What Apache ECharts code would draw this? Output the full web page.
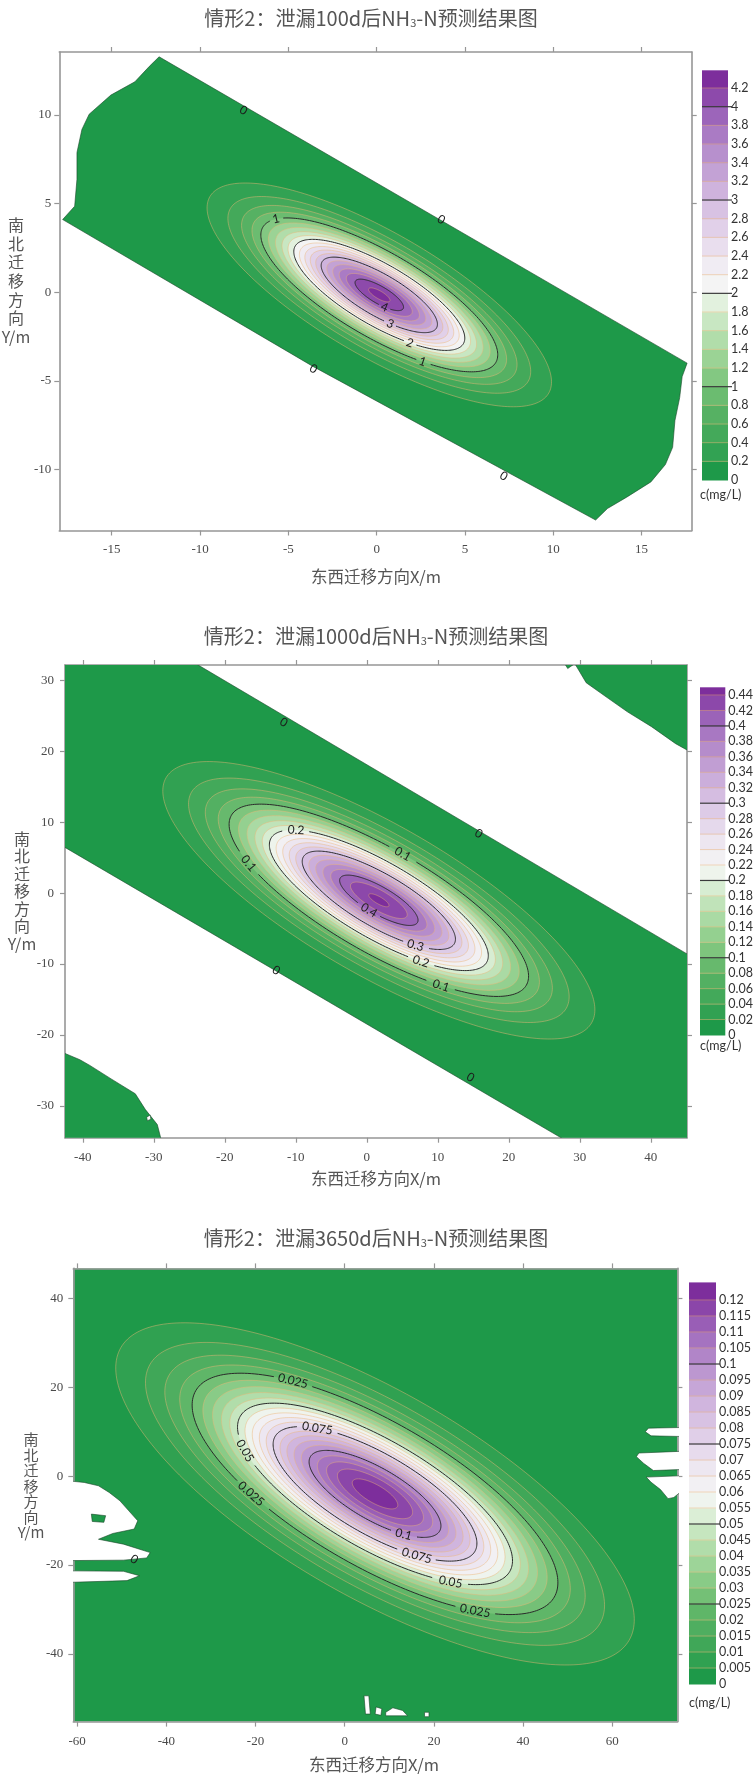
<!DOCTYPE html>
<html>
<head>
<meta charset="utf-8">
<script src="https://cdn.jsdelivr.net/npm/echarts@6/dist/echarts.min.js"></script>
<style>
  html, body { margin: 0; padding: 0; background: #ffffff; }
  #chart { width: 756px; height: 1774px; }
</style>
</head>
<body>
<div id="chart"></div>
<script>
// ===================== 情形2：泄漏100d =====================
const xRange100 = [-17.97, 17.84];
const yRange100 = [-13.44, 13.55];
const xTicks100 = [-15, -10, -5, 0, 5, 10, 15];
const yTicks100 = [-10, -5, 0, 5, 10];
const levels100 = [0.2, 0.4, 0.6, 0.8, 1, 1.2, 1.4, 1.6, 1.8, 2, 2.2, 2.4, 2.6, 2.8, 3, 3.2, 3.4, 3.6, 3.8, 4, 4.2];
const semiMajor100 = [11.08, 9.74, 8.86, 8.19, 7.62, 7.13, 6.68, 6.26, 5.87, 5.50, 5.14, 4.79, 4.44, 4.09, 3.74, 3.38, 2.99, 2.58, 2.12, 1.56, 0.69];
const semiMinor100 = [3.49, 3.07, 2.79, 2.58, 2.40, 2.24, 2.10, 1.97, 1.85, 1.73, 1.62, 1.51, 1.40, 1.29, 1.18, 1.06, 0.94, 0.81, 0.67, 0.49, 0.22];
const majorLevels100 = [1, 2, 3, 4];
const plumeCenter100 = [0.15, -0.15];
const plumeAxisDeg100 = -30;
const barMax100 = 4.39;
const domain100 = [
  [[-12.32, 13.28], [17.58, -4.0], [17.3, -4.76], [17.16, -5.94], [16.89, -7.24], [16.76, -8.75],
   [16.35, -9.72], [15.53, -10.7], [14.16, -11.56], [13.07, -12.2], [12.4, -12.85], [-3.58, -4.2],
   [-17.78, 4.1], [-17.1, 4.85], [-16.97, 6.37], [-16.97, 7.88], [-16.69, 9.18], [-16.28, 10.04],
   [-15.05, 11.12], [-13.69, 11.87], [-12.87, 12.74]]
];
const holes100 = [];
const islands100 = [];
const zeroLabels100 = [[-7.54, 10.25], [3.65, 4.1], [-3.58, -4.32], [7.2, -10.37]];
const contourLabels100 = [[1, -5.66, 4.1], [1, 2.64, -3.98], [2, 1.88, -2.86], [3, 0.75, -1.73], [4, 0.38, -0.69]];

// ===================== 情形2：泄漏1000d =====================
const xRange1000 = [-42.5, 45.1];
const yRange1000 = [-34.5, 32.2];
const xTicks1000 = [-40, -30, -20, -10, 0, 10, 20, 30, 40];
const yTicks1000 = [-30, -20, -10, 0, 10, 20, 30];
const levels1000 = [0.02, 0.04, 0.06, 0.08, 0.1, 0.12, 0.14, 0.16, 0.18, 0.2, 0.22, 0.24, 0.26, 0.28, 0.3, 0.32, 0.34, 0.36, 0.38, 0.4, 0.42, 0.44];
const semiMajor1000 = [34.60, 30.48, 27.79, 25.72, 23.98, 22.47, 21.10, 19.84, 18.66, 17.53, 16.45, 15.39, 14.35, 13.31, 12.27, 11.21, 10.11, 8.95, 7.70, 6.28, 4.54, 1.62];
const semiMinor1000 = [10.58, 9.32, 8.50, 7.86, 7.33, 6.87, 6.45, 6.07, 5.70, 5.36, 5.03, 4.71, 4.39, 4.07, 3.75, 3.43, 3.09, 2.74, 2.35, 1.92, 1.39, 0.50];
const majorLevels1000 = [0.1, 0.2, 0.3, 0.4];
const plumeCenter1000 = [1.7, -1.0];
const plumeAxisDeg1000 = -30;
const barMax1000 = 0.45;
const domain1000 = [
  [[-43, 33], [-25.1, 33], [46, -9.1], [46, -35], [28.2, -35], [-43, 6.75]],
  [[27.5, 33], [28.3, 31.7], [29.3, 32.4], [30.9, 29.7], [34.0, 27.5], [36.7, 25.6], [40.1, 23.5], [43.5, 21.1], [46, 19.7], [46, 33]],
  [[-43, -22.4], [-40.4, -23.5], [-39.0, -24.3], [-36.0, -26.2], [-32.6, -28.3], [-31.2, -30.5], [-29.5, -32.65], [-28.9, -35], [-43, -35]]
];
const holes1000 = [[[-31.0, -31.6], [-30.5, -31.3], [-30.4, -31.9], [-30.9, -32.1]]];
const islands1000 = [];
const zeroLabels1000 = [[-11.7, 24.1], [15.76, 8.39], [-12.77, -10.9], [14.6, -26.0]];
const contourLabels1000 = [[0.2, -9.6, 8.6], [0.1, 5.2, 5.8], [0.1, -17.3, 4.4], [0.4, 0.75, -1.96], [0.3, 6.85, -7.36], [0.2, 7.8, -9.9], [0.1, 10.8, -13.5]];

// ===================== 情形2：泄漏3650d =====================
const xRange3650 = [-60.85, 74.6];
const yRange3650 = [-55.2, 46.7];
const xTicks3650 = [-60, -40, -20, 0, 20, 40, 60];
const yTicks3650 = [-40, -20, 0, 20, 40];
const levels3650 = [0.005, 0.01, 0.015, 0.02, 0.025, 0.03, 0.035, 0.04, 0.045, 0.05, 0.055, 0.06, 0.065, 0.07, 0.075, 0.08, 0.085, 0.09, 0.095, 0.1, 0.105, 0.11, 0.115, 0.12];
const semiMajor3650 = [65.80, 58.25, 53.34, 49.56, 46.41, 43.68, 41.22, 38.97, 36.87, 34.89, 32.99, 31.15, 29.36, 27.61, 25.86, 24.11, 22.35, 20.55, 18.69, 16.73, 14.63, 12.29, 9.54, 5.78];
const semiMinor3650 = [23.03, 20.39, 18.67, 17.35, 16.24, 15.29, 14.43, 13.64, 12.90, 12.21, 11.55, 10.90, 10.28, 9.66, 9.05, 8.44, 7.82, 7.19, 6.54, 5.86, 5.12, 4.30, 3.34, 2.02];
const majorLevels3650 = [0.025, 0.05, 0.075, 0.1];
const plumeCenter3650 = [6.8, -4.0];
const plumeAxisDeg3650 = -30;
const barMax3650 = 0.1255;
const domain3650 = [[[-62, 48], [76, 48], [76, -57], [-62, -57]]];
const holes3650 = [
  [[-62, -1.06], [-58.4, -1.43], [-55.2, -2.18], [-52.8, -3.68], [-50.4, -5.55], [-48.4, -7.8], [-46.4, -10.04],
   [-47.2, -11.9], [-52.0, -12.9], [-55.2, -14.2], [-49.6, -15.3], [-43.6, -17.2], [-44.4, -18.4], [-49.6, -18.9], [-62, -19.0]],
  [[-62, -21.3], [-49.6, -21.4], [-46.0, -22.4], [-48.8, -23.5], [-62, -23.9]],
  [[76, 10.94], [68.1, 10.78], [67.4, 9.96], [68.7, 9.05], [76, 8.89]],
  [[76, 5.6], [65.96, 5.19], [65.4, 4.37], [67.0, 2.89], [69.2, 1.25], [76, 1.5]],
  [[76, 0.1], [67.6, -0.23], [68.7, -1.38], [70.8, -3.02], [72.5, -5.07], [73.8, -4.8], [76, -3.02]],
  [[4.33, -49.4], [5.41, -49.4], [5.74, -53.5], [4.66, -53.5]],
  [[7.04, -51.9], [8.33, -52.3], [8.12, -53.8], [6.82, -53.5]],
  [[9.2, -53.1], [10.8, -52.1], [13.0, -52.7], [14.1, -53.9], [9.2, -53.9]],
  [[17.9, -53.1], [18.9, -53.1], [18.9, -54.1], [17.9, -54.1]]
];
const islands3650 = [[[-56.8, -8.55], [-53.6, -8.9], [-54.0, -10.4], [-56.6, -10.2]]];
const zeroLabels3650 = [[-47.2, -18.7]];
const contourLabels3650 = [[0.025, -11.1, 20.7], [0.075, -4.7, 9.1], [0.05, -22.4, 5.7], [0.025, -20.0, -4.0], [0.1, 12.1, -11.5], [0.075, 15.7, -17.2], [0.05, 22.9, -22.8], [0.025, 28.9, -29.9]];

// ---------- colour scale: green -> white -> purple ----------
const colourStops = [
  [0.00, [30, 153, 73]], [0.05, [51, 162, 83]], [0.10, [70, 170, 91]], [0.16, [92, 180, 102]],
  [0.22, [122, 195, 122]], [0.28, [152, 210, 147]], [0.34, [180, 222, 173]], [0.40, [210, 235, 204]],
  [0.44, [232, 243, 229]], [0.47, [244, 245, 244]], [0.52, [241, 237, 243]], [0.60, [228, 214, 235]],
  [0.70, [210, 184, 223]], [0.80, [186, 148, 207]], [0.90, [158, 104, 187]], [1.00, [125, 46, 156]]
];
function colourAt(t) {
  t = Math.max(0, Math.min(1, t));
  for (let i = 1; i < colourStops.length; i++) {
    const [t1, c1] = colourStops[i];
    const [t0, c0] = colourStops[i - 1];
    if (t <= t1) {
      const f = (t - t0) / (t1 - t0);
      const c = c0.map((v, k) => Math.round(v + (c1[k] - v) * f));
      return 'rgb(' + c.join(',') + ')';
    }
  }
  return 'rgb(125,46,156)';
}
const BASE_GREEN = colourAt(0);
const MINOR_LINE = 'rgba(236,182,118,0.6)';
const MAJOR_LINE = '#2a2a2a';

// ---------- panel assembly ----------
const panels = [
  {
    xRange: xRange100, yRange: yRange100, xTicks: xTicks100, yTicks: yTicks100,
    levels: levels100, semiMajor: semiMajor100, semiMinor: semiMinor100, majorLevels: majorLevels100,
    center: plumeCenter100, angle: plumeAxisDeg100 * Math.PI / 180, barMax: barMax100,
    domain: domain100, holes: holes100, islands: islands100,
    zeroLabels: zeroLabels100, contourLabels: contourLabels100,
    title: '情形2：泄漏100d后NH{s|3}-N预测结果图',
    layout: { grid: { left: 59.3, top: 52, width: 632.4, height: 478.5 },
              bar: { left: 702, top: 70.3, width: 26, height: 409.7 },
              title: [371, 18], xName: [376, 577], yName: [16, 281, 18.6, 16], unit: [700, 495],
              xLabelMargin: 13, yLabelMargin: 8 }
  },
  {
    xRange: xRange1000, yRange: yRange1000, xTicks: xTicks1000, yTicks: yTicks1000,
    levels: levels1000, semiMajor: semiMajor1000, semiMinor: semiMinor1000, majorLevels: majorLevels1000,
    center: plumeCenter1000, angle: plumeAxisDeg1000 * Math.PI / 180, barMax: barMax1000,
    domain: domain1000, holes: holes1000, islands: islands1000,
    zeroLabels: zeroLabels1000, contourLabels: contourLabels1000,
    title: '情形2：泄漏1000d后NH{s|3}-N预测结果图',
    layout: { grid: { left: 65, top: 665, width: 622, height: 472.7 },
              bar: { left: 700, top: 687.3, width: 26, height: 347.7 },
              title: [376, 636], xName: [376, 1179], yName: [22, 891, 17.5, 16], unit: [700, 1046],
              xLabelMargin: 13, yLabelMargin: 11 }
  },
  {
    xRange: xRange3650, yRange: yRange3650, xTicks: xTicks3650, yTicks: yTicks3650,
    levels: levels3650, semiMajor: semiMajor3650, semiMinor: semiMinor3650, majorLevels: majorLevels3650,
    center: plumeCenter3650, angle: plumeAxisDeg3650 * Math.PI / 180, barMax: barMax3650,
    domain: domain3650, holes: holes3650, islands: islands3650,
    zeroLabels: zeroLabels3650, contourLabels: contourLabels3650,
    title: '情形2：泄漏3650d后NH{s|3}-N预测结果图',
    layout: { grid: { left: 73.3, top: 1268.4, width: 604.1, height: 453.2 },
              bar: { left: 689, top: 1282.4, width: 27, height: 401.6 },
              title: [376, 1238], xName: [374, 1765], yName: [31, 1486, 15.5, 15], unit: [689, 1703],
              xLabelMargin: 13, yLabelMargin: 10 }
  }
];

// ---------- geometry helpers (data space) ----------
function ellipsePoint(c, a, b, ang, s) {
  const ca = Math.cos(ang), sa = Math.sin(ang);
  const u = a * Math.cos(s), v = b * Math.sin(s);
  return [c[0] + u * ca - v * sa, c[1] + u * sa + v * ca];
}
function ellipseParam(c, a, b, ang, x, y) {
  const ca = Math.cos(ang), sa = Math.sin(ang);
  const dx = x - c[0], dy = y - c[1];
  const u = dx * ca + dy * sa, v = -dx * sa + dy * ca;
  return Math.atan2(v / b, u / a);
}
const SAMPLES = 240;
function isMajor(p, level) { return p.majorLevels.some(m => Math.abs(m - level) < 1e-9); }
function bandColour(p, j) { return colourAt(j / p.levels.length); }

// ---------- render functions ----------
function polygonSeries(p, polys, fill, stroke, gi) {
  return {
    type: 'custom', xAxisIndex: 2 * gi, yAxisIndex: 2 * gi, clip: true, silent: true,
    data: polys.map((_, i) => [i]),
    renderItem: (params, api) => ({
      type: 'polygon',
      shape: { points: polys[params.dataIndex].map(pt => api.coord(pt)) },
      style: { fill: fill, stroke: stroke, lineWidth: 0.8 }
    })
  };
}

function bandSeries(p, gi) {
  return {
    type: 'custom', xAxisIndex: 2 * gi, yAxisIndex: 2 * gi, clip: true, silent: true,
    data: p.levels.map((c, i) => [c, p.semiMajor[i], p.semiMinor[i]]),
    renderItem: (params, api) => {
      const i = params.dataIndex;
      const a = api.value(1), b = api.value(2);
      const pts = [];
      for (let k = 0; k < SAMPLES; k++) {
        pts.push(api.coord(ellipsePoint(p.center, a, b, p.angle, 2 * Math.PI * k / SAMPLES)));
      }
      return { type: 'polygon', shape: { points: pts }, style: { fill: bandColour(p, i + 1) } };
    }
  };
}

function contourSeries(p, gi) {
  return {
    type: 'custom', xAxisIndex: 2 * gi, yAxisIndex: 2 * gi, clip: true, silent: true,
    data: p.levels.map((c, i) => [c, p.semiMajor[i], p.semiMinor[i]]),
    renderItem: (params, api) => {
      const level = api.value(0), a = api.value(1), b = api.value(2);
      const major = isMajor(p, level);
      const pts = [];
      for (let k = 0; k < SAMPLES; k++) {
        pts.push(api.coord(ellipsePoint(p.center, a, b, p.angle, 2 * Math.PI * k / SAMPLES)));
      }
      const children = [];
      const skip = new Array(SAMPLES).fill(false);
      if (major) {
        p.contourLabels.filter(l => Math.abs(l[0] - level) < 1e-9).forEach(l => {
          const s = ellipseParam(p.center, a, b, p.angle, l[1], l[2]);
          const sp = api.coord(ellipsePoint(p.center, a, b, p.angle, s));
          const sq = api.coord(ellipsePoint(p.center, a, b, p.angle, s + 0.01));
          let rot = Math.atan2(-(sq[1] - sp[1]), sq[0] - sp[0]);
          if (rot > Math.PI / 2) rot -= Math.PI;
          if (rot < -Math.PI / 2) rot += Math.PI;
          const text = String(level);
          const half = text.length * 3.2 + 3;
          for (let k = 0; k < SAMPLES; k++) {
            if (Math.hypot(pts[k][0] - sp[0], pts[k][1] - sp[1]) < half) skip[k] = true;
          }
          children.push({
            type: 'text', x: sp[0], y: sp[1], rotation: rot, z2: 5,
            style: { text: text, fill: '#1c1c1c', fontSize: 12, fontFamily: 'Lato, sans-serif',
                     align: 'center', verticalAlign: 'middle' }
          });
        });
      }
      const style = major ? { stroke: MAJOR_LINE, lineWidth: 1, fill: null }
                          : { stroke: MINOR_LINE, lineWidth: 0.8, fill: null };
      const start = skip.indexOf(true);
      if (start < 0) {
        children.push({ type: 'polygon', shape: { points: pts }, style: style });
      } else {
        let run = [];
        for (let n = 1; n <= SAMPLES; n++) {
          const k = (start + n) % SAMPLES;
          if (skip[k]) {
            if (run.length > 1) children.push({ type: 'polyline', shape: { points: run }, style: style });
            run = [];
          } else {
            run.push(pts[k]);
          }
        }
        if (run.length > 1) children.push({ type: 'polyline', shape: { points: run }, style: style });
      }
      return { type: 'group', children: children };
    }
  };
}

function zeroLabelSeries(p, gi) {
  return {
    type: 'custom', xAxisIndex: 2 * gi, yAxisIndex: 2 * gi, clip: true, silent: true,
    data: p.zeroLabels,
    renderItem: (params, api) => {
      const pt = api.coord([api.value(0), api.value(1)]);
      return {
        type: 'text', x: pt[0], y: pt[1], rotation: -Math.PI / 6,
        style: { text: '0', fill: '#1c1c1c', fontSize: 12, fontFamily: 'Lato, sans-serif',
                 align: 'center', verticalAlign: 'middle' }
      };
    }
  };
}

function barSeries(p, gi) {
  const edges = [0].concat(p.levels, [p.barMax]);
  return {
    type: 'custom', xAxisIndex: 6 + gi, yAxisIndex: 6 + gi, silent: true,
    data: edges.slice(0, -1).map((lo, j) => [lo, edges[j + 1]]),
    renderItem: (params, api) => {
      const p0 = api.coord([0, api.value(0)]);
      const p1 = api.coord([1, api.value(1)]);
      return {
        type: 'rect',
        shape: { x: p0[0], y: p1[1], width: p1[0] - p0[0], height: p0[1] - p1[1] + 0.5 },
        style: { fill: bandColour(p, params.dataIndex) }
      };
    }
  };
}

function barLineSeries(p, gi) {
  return {
    type: 'custom', xAxisIndex: 6 + gi, yAxisIndex: 6 + gi, silent: true, z: 3,
    data: p.levels.map(c => [c]),
    renderItem: (params, api) => {
      const level = api.value(0);
      const major = isMajor(p, level);
      const a = api.coord([0, level]);
      const b = api.coord([1, level]);
      return {
        type: 'line',
        shape: { x1: a[0], y1: a[1], x2: b[0] + (major ? 4 : 0), y2: b[1] },
        style: major ? { stroke: '#3a3a3a', lineWidth: 1.2 } : { stroke: MINOR_LINE, lineWidth: 0.8 }
      };
    }
  };
}

// ---------- axes ----------
const FRAME = '#969696';
const grids = [], xAxes = [], yAxes = [], series = [], graphics = [];

panels.forEach((p, gi) => {
  const L = p.layout;
  grids.push(Object.assign({ containLabel: false, show: gi === 2, backgroundColor: gi === 2 ? BASE_GREEN : 'transparent', borderWidth: 0 }, L.grid));
});
panels.forEach((p) => {
  grids.push(Object.assign({ containLabel: false }, p.layout.bar));
});

panels.forEach((p, gi) => {
  const line = { show: true, onZero: false, lineStyle: { color: FRAME, width: 1.6 } };
  const labelFont = { color: '#4a4a4a', fontFamily: 'Liberation Serif, serif', fontSize: 13 };
  const tick = vals => ({ show: true, inside: false, length: 5, customValues: vals, lineStyle: { color: FRAME, width: 1.2 } });
  xAxes.push({ type: 'value', gridIndex: gi, position: 'bottom', min: p.xRange[0], max: p.xRange[1],
    axisLine: line, axisTick: tick(p.xTicks), splitLine: { show: false },
    axisLabel: Object.assign({ customValues: p.xTicks, margin: p.layout.xLabelMargin }, labelFont) });
  xAxes.push({ type: 'value', gridIndex: gi, position: 'top', min: p.xRange[0], max: p.xRange[1],
    axisLine: line, axisTick: tick(p.xTicks), splitLine: { show: false }, axisLabel: { show: false } });
  yAxes.push({ type: 'value', gridIndex: gi, position: 'left', min: p.yRange[0], max: p.yRange[1],
    axisLine: line, axisTick: tick(p.yTicks), splitLine: { show: false },
    axisLabel: Object.assign({ customValues: p.yTicks, margin: p.layout.yLabelMargin }, labelFont) });
  yAxes.push({ type: 'value', gridIndex: gi, position: 'right', min: p.yRange[0], max: p.yRange[1],
    axisLine: line, axisTick: tick(p.yTicks), splitLine: { show: false }, axisLabel: { show: false } });
});
panels.forEach((p, gi) => {
  xAxes.push({ type: 'value', gridIndex: 3 + gi, min: 0, max: 1, show: false });
  yAxes.push({ type: 'value', gridIndex: 3 + gi, position: 'right', min: 0, max: p.barMax,
    axisLine: { show: false }, axisTick: { show: false }, splitLine: { show: false },
    axisLabel: { customValues: [0].concat(p.levels), margin: 3, color: '#333',
                 fontFamily: 'Lato, sans-serif', fontSize: 12.5, formatter: v => String(v) } });
});

panels.forEach((p, gi) => {
  if (gi !== 2) series.push(polygonSeries(p, p.domain, BASE_GREEN, 'rgba(25,70,40,0.75)', gi));
  if (p.holes.length) series.push(polygonSeries(p, p.holes, '#ffffff', 'rgba(25,70,40,0.75)', gi));
  if (p.islands.length) series.push(polygonSeries(p, p.islands, BASE_GREEN, 'rgba(25,70,40,0.75)', gi));
  series.push(bandSeries(p, gi));
  series.push(contourSeries(p, gi));
  series.push(zeroLabelSeries(p, gi));
  series.push(barSeries(p, gi));
  series.push(barLineSeries(p, gi));

  const L = p.layout;
  graphics.push({
    type: 'text', x: L.title[0], y: L.title[1],
    style: { text: p.title, fill: '#555', fontSize: 20, fontFamily: 'Noto Sans CJK SC, sans-serif',
             align: 'center', verticalAlign: 'middle',
             rich: { s: { fontSize: 11, fill: '#555', padding: [10, 0, 0, 0], fontFamily: 'Noto Sans CJK SC, sans-serif' } } }
  });
  graphics.push({
    type: 'text', x: L.xName[0], y: L.xName[1],
    style: { text: '东西迁移方向X/m', fill: '#555', fontSize: 16.5, fontFamily: 'Noto Sans CJK SC, sans-serif',
             align: 'center', verticalAlign: 'middle' }
  });
  graphics.push({
    type: 'text', x: L.yName[0], y: L.yName[1],
    style: { text: '南\n北\n迁\n移\n方\n向\nY/m', fill: '#555', fontSize: L.yName[3], lineHeight: L.yName[2],
             fontFamily: 'Noto Sans CJK SC, sans-serif', align: 'center', verticalAlign: 'middle' }
  });
  graphics.push({
    type: 'text', x: L.unit[0], y: L.unit[1],
    style: { text: 'c(mg/L)', fill: '#333', fontSize: 12.5, fontFamily: 'Lato, sans-serif',
             align: 'left', verticalAlign: 'middle' }
  });
});

const chart = echarts.init(document.getElementById('chart'), null, { renderer: 'canvas' });
chart.setOption({
  animation: false,
  backgroundColor: '#ffffff',
  grid: grids,
  xAxis: xAxes,
  yAxis: yAxes,
  series: series,
  graphic: graphics
});
</script>
</body>
</html>
